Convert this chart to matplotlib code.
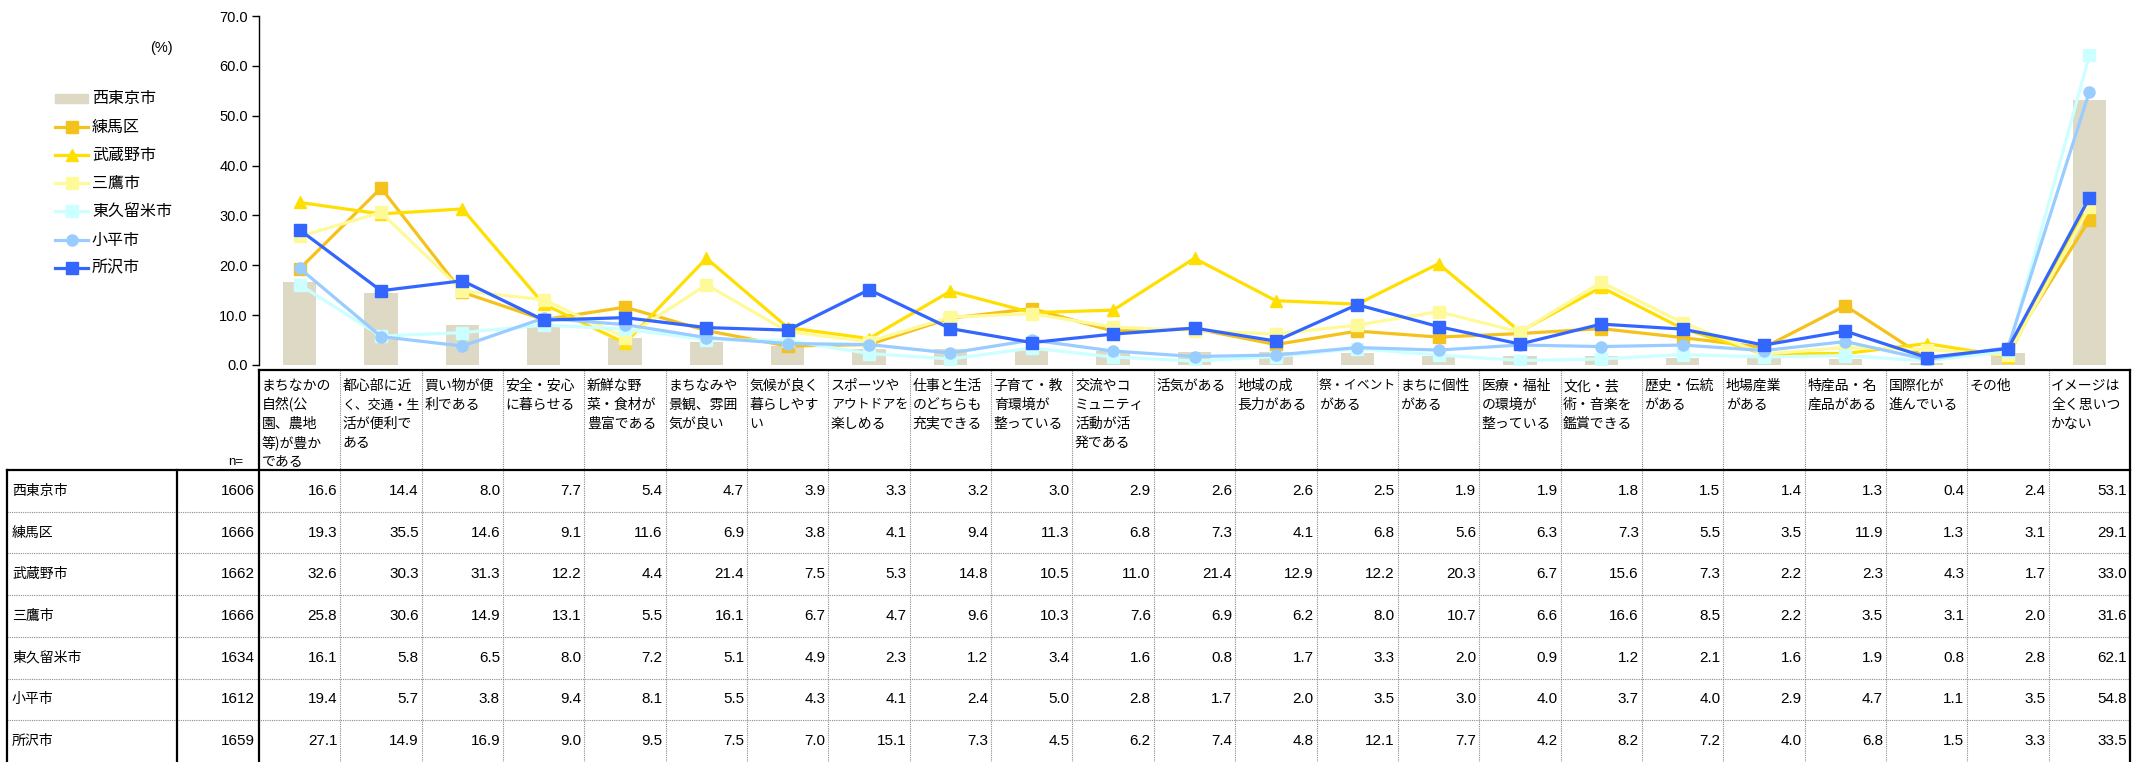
import matplotlib
matplotlib.use("Agg")
import matplotlib.pyplot as plt
from matplotlib.patches import Rectangle

plt.rcParams['font.family'] = ['Liberation Sans', 'Noto Sans CJK JP', 'DejaVu Sans']

categories = [
    ["まちなかの", "自然(公", "園、農地", "等)が豊か", "である"],
    ["都心部に近", "く、交通・生", "活が便利で", "ある"],
    ["買い物が便", "利である"],
    ["安全・安心", "に暮らせる"],
    ["新鮮な野", "菜・食材が", "豊富である"],
    ["まちなみや", "景観、雰囲", "気が良い"],
    ["気候が良く", "暮らしやす", "い"],
    ["スポーツや", "アウトドアを", "楽しめる"],
    ["仕事と生活", "のどちらも", "充実できる"],
    ["子育て・教", "育環境が", "整っている"],
    ["交流やコ", "ミュニティ", "活動が活", "発である"],
    ["活気がある"],
    ["地域の成", "長力がある"],
    ["祭・イベント", "がある"],
    ["まちに個性", "がある"],
    ["医療・福祉", "の環境が", "整っている"],
    ["文化・芸", "術・音楽を", "鑑賞できる"],
    ["歴史・伝統", "がある"],
    ["地場産業", "がある"],
    ["特産品・名", "産品がある"],
    ["国際化が", "進んでいる"],
    ["その他"],
    ["イメージは", "全く思いつ", "かない"],
]

series_names = ["西東京市", "練馬区", "武蔵野市", "三鷹市", "東久留米市", "小平市", "所沢市"]
n_values = [1606, 1666, 1662, 1666, 1634, 1612, 1659]

nishitokyo = [16.6, 14.4, 8.0, 7.7, 5.4, 4.7, 3.9, 3.3, 3.2, 3.0, 2.9, 2.6, 2.6, 2.5, 1.9, 1.9, 1.8, 1.5, 1.4, 1.3, 0.4, 2.4, 53.1]
nerima = [19.3, 35.5, 14.6, 9.1, 11.6, 6.9, 3.8, 4.1, 9.4, 11.3, 6.8, 7.3, 4.1, 6.8, 5.6, 6.3, 7.3, 5.5, 3.5, 11.9, 1.3, 3.1, 29.1]
musashino = [32.6, 30.3, 31.3, 12.2, 4.4, 21.4, 7.5, 5.3, 14.8, 10.5, 11.0, 21.4, 12.9, 12.2, 20.3, 6.7, 15.6, 7.3, 2.2, 2.3, 4.3, 1.7, 33.0]
mitaka = [25.8, 30.6, 14.9, 13.1, 5.5, 16.1, 6.7, 4.7, 9.6, 10.3, 7.6, 6.9, 6.2, 8.0, 10.7, 6.6, 16.6, 8.5, 2.2, 3.5, 3.1, 2.0, 31.6]
higashikurume = [16.1, 5.8, 6.5, 8.0, 7.2, 5.1, 4.9, 2.3, 1.2, 3.4, 1.6, 0.8, 1.7, 3.3, 2.0, 0.9, 1.2, 2.1, 1.6, 1.9, 0.8, 2.8, 62.1]
kodaira = [19.4, 5.7, 3.8, 9.4, 8.1, 5.5, 4.3, 4.1, 2.4, 5.0, 2.8, 1.7, 2.0, 3.5, 3.0, 4.0, 3.7, 4.0, 2.9, 4.7, 1.1, 3.5, 54.8]
tokorozawa = [27.1, 14.9, 16.9, 9.0, 9.5, 7.5, 7.0, 15.1, 7.3, 4.5, 6.2, 7.4, 4.8, 12.1, 7.7, 4.2, 8.2, 7.2, 4.0, 6.8, 1.5, 3.3, 33.5]

all_values = [nishitokyo, nerima, musashino, mitaka, higashikurume, kodaira, tokorozawa]

bar_color = '#DDD9C4'
line_styles = [
    ('#F5C21B', 's'),
    ('#FFDF00', '^'),
    ('#FFFA99', 's'),
    ('#CCFFFF', 's'),
    ('#99CCFF', 'o'),
    ('#3366FF', 's'),
]

W, H = 2136, 762
DPI = 100
PL, PR = 259, 2130
PT, PB = 16, 365
TT, HB = 370, 470
RH = (H - HB) / 7.0

fig = plt.figure(figsize=(W / DPI, H / DPI), dpi=DPI)

ov = fig.add_axes([0, 0, 1, 1])
ov.set_xlim(0, W)
ov.set_ylim(H, 0)
ov.axis('off')

ax = fig.add_axes([PL / W, 1 - PB / H, (PR - PL) / W, (PB - PT) / H])
ax.set_zorder(2)
ax.patch.set_alpha(0)
ncat = len(categories)
x = list(range(ncat))
ax.set_xlim(-0.5, ncat - 0.5)
ax.set_ylim(0, 70)
ax.bar(x, nishitokyo, width=0.41, color=bar_color, zorder=1)
for vals, (c, m) in zip(all_values[1:], line_styles):
    ax.plot(x, vals, color=c, marker=m, markersize=8, markeredgecolor=c,
            markerfacecolor=c, linewidth=2.3, zorder=3)

ticks = [0, 10, 20, 30, 40, 50, 60, 70]
ax.set_yticks(ticks)
ax.set_yticklabels([f"{v:.1f}" for v in ticks], fontsize=10.5)
ax.tick_params(axis='y', direction='out', length=5, width=1, pad=3)
ax.set_xticks([])
for s in ['top', 'right', 'bottom']:
    ax.spines[s].set_visible(False)
ax.spines['left'].set_linewidth(1)

fig.canvas.draw()
renderer = fig.canvas.get_renderer()


def xpix(xd):
    return ax.transData.transform((xd, 0))[0]


bounds = [xpix(i - 0.5) for i in range(ncat + 1)]

thick = dict(color='black', linewidth=1.6, solid_capstyle='projecting')
dotted = dict(color='#8a8a8a', linewidth=0.8, linestyle=(0, (1, 1)))

for b in bounds[1:-1]:
    ov.plot([b, b], [TT, H], **dotted)
for r in range(1, 7):
    y = HB + r * RH
    ov.plot([7, PR], [y, y], **dotted)
ov.plot([bounds[0], PR], [TT, TT], **thick)
ov.plot([7, PR], [HB, HB], **thick)
ov.plot([bounds[0], bounds[0]], [TT, H], **thick)
ov.plot([PR, PR], [TT, H], **thick)
ov.plot([7, 7], [HB, H], **thick)
ov.plot([177, 177], [HB, H], **thick)

jp = ['Noto Sans CJK JP', 'DejaVu Sans']
for i, lines in enumerate(categories):
    avail = bounds[i + 1] - bounds[i] - 4
    for k, ln in enumerate(lines):
        t = ov.text(bounds[i] + 2.5, 386 + k * 18.8, ln, fontsize=10, family=jp,
                    ha='left', va='center')
        w = t.get_window_extent(renderer).width
        if w > avail:
            t.set_fontsize(10 * avail / w)
ov.text(236, 462, "n=", fontsize=9.5, ha='center', va='center')

for r, (name, n, vals) in enumerate(zip(series_names, n_values, all_values)):
    yc = HB + (r + 0.5) * RH
    ov.text(12, yc, name, fontsize=10, family=jp, ha='left', va='center')
    ov.text(255, yc, str(n), fontsize=11, ha='right', va='center')
    for i, v in enumerate(vals):
        ov.text(bounds[i + 1] - 3, yc, f"{v:.1f}", fontsize=11, ha='right', va='center')

leg_y = [98, 127, 155, 183, 211, 240, 268]
ov.add_patch(Rectangle((55, leg_y[0] - 4.5), 33, 9, color=bar_color))
ov.text(92, leg_y[0], series_names[0], fontsize=11.5, family=jp, ha='left', va='center')
for (c, m), y, name in zip(line_styles, leg_y[1:], series_names[1:]):
    ov.plot([55, 88], [y, y], color=c, linewidth=2.3)
    ov.plot([71.5], [y], marker=m, markersize=8, color=c, markeredgecolor=c)
    ov.text(92, y, name, fontsize=11.5, family=jp, ha='left', va='center')

ov.text(161, 48, "(%)", fontsize=10.5, ha='center', va='center')

fig.savefig("out.png", dpi=DPI)
